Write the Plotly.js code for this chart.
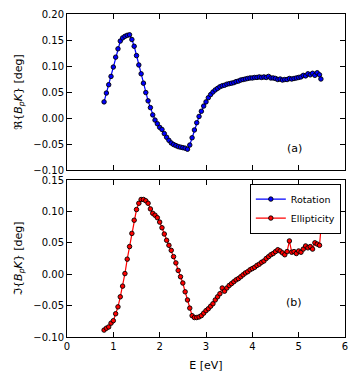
<!DOCTYPE html>
<html>
<head>
<meta charset="utf-8">
<script src="https://cdn.plot.ly/plotly-3.0.1.min.js"></script>
<style>
  html, body { margin: 0; padding: 0; background: #fff; }
  #plot { width: 358px; height: 380px; }
</style>
</head>
<body>
<div id="plot"></div>
<script>
// Photon energy [eV], shared by both series
const energy = [
  0.80, 0.85, 0.90, 0.95, 1.00, 1.05, 1.10, 1.15, 1.20, 1.25,
  1.30, 1.35, 1.40, 1.45, 1.50, 1.55, 1.60, 1.65, 1.70, 1.75,
  1.80, 1.85, 1.90, 1.95, 2.00, 2.05, 2.10, 2.15, 2.20, 2.25,
  2.30, 2.35, 2.40, 2.45, 2.50, 2.55, 2.60, 2.65, 2.70, 2.75,
  2.80, 2.85, 2.90, 2.95, 3.00, 3.05, 3.10, 3.15, 3.20, 3.25,
  3.30, 3.35, 3.40, 3.45, 3.50, 3.55, 3.60, 3.65, 3.70, 3.75,
  3.80, 3.85, 3.90, 3.95, 4.00, 4.05, 4.10, 4.15, 4.20, 4.25,
  4.30, 4.35, 4.40, 4.45, 4.50, 4.55, 4.60, 4.65, 4.70, 4.75,
  4.80, 4.85, 4.90, 4.95, 5.00, 5.05, 5.10, 5.15, 5.20, 5.25,
  5.30, 5.35, 5.40, 5.45, 5.48
];

// Re{BpK} [deg]
const rotation = [
  0.031, 0.048, 0.064, 0.080, 0.098, 0.117, 0.133, 0.148, 0.154, 0.157,
  0.159, 0.160, 0.151, 0.138, 0.120, 0.102, 0.085, 0.067, 0.049, 0.033,
  0.020, 0.006, -0.004, -0.011, -0.018, -0.022, -0.030, -0.037, -0.043, -0.048,
  -0.051, -0.053, -0.055, -0.056, -0.057, -0.058, -0.060, -0.052, -0.038, -0.023,
  -0.009, 0.003, 0.013, 0.023, 0.031, 0.039, 0.045, 0.050, 0.054, 0.057,
  0.060, 0.062, 0.063, 0.065, 0.066, 0.067, 0.068, 0.070, 0.071, 0.073,
  0.074, 0.075, 0.076, 0.077, 0.077, 0.078, 0.078, 0.079, 0.078, 0.079,
  0.078, 0.080, 0.077, 0.077, 0.076, 0.074, 0.075, 0.073, 0.074, 0.074,
  0.076, 0.075, 0.076, 0.077, 0.078, 0.079, 0.082, 0.081, 0.085, 0.083,
  0.086, 0.082, 0.087, 0.083, 0.075
];

// Im{BpK} [deg]
const ellipticity = [
  -0.089, -0.086, -0.084, -0.078, -0.074, -0.063, -0.052, -0.036, -0.019, 0.001,
  0.024, 0.044, 0.065, 0.086, 0.103, 0.113, 0.119, 0.119, 0.117, 0.113,
  0.104, 0.097, 0.094, 0.090, 0.083, 0.074, 0.064, 0.054, 0.046, 0.038,
  0.028, 0.018, 0.006, -0.004, -0.014, -0.028, -0.041, -0.054, -0.066, -0.069,
  -0.069, -0.068, -0.066, -0.062, -0.058, -0.055, -0.051, -0.047, -0.041, -0.036,
  -0.031, -0.022, -0.027, -0.022, -0.018, -0.015, -0.012, -0.009, -0.007, -0.004,
  -0.001, 0.002, 0.004, 0.007, 0.009, 0.011, 0.014, 0.016, 0.019, 0.021,
  0.025, 0.028, 0.031, 0.033, 0.036, 0.039, 0.037, 0.034, 0.031, 0.036,
  0.053, 0.035, 0.036, 0.033, 0.037, 0.035, 0.040, 0.045, 0.042, 0.044,
  0.040, 0.050, 0.048, 0.046, 0.072
];

const xTicks = [0, 1, 2, 3, 4, 5, 6];
const yTicksTop = [-0.10, -0.05, 0.00, 0.05, 0.10, 0.15, 0.20];
const yTicksBottom = [-0.10, -0.05, 0.00, 0.05, 0.10, 0.15];

const fmt = (v) => (v < 0 ? "\u2212" : "") + Math.abs(v).toFixed(2);

const font = { family: "DejaVu Sans", size: 10, color: "#000" };
const titleFont = { family: "DejaVu Sans", size: 11, color: "#000" };

const axisBase = {
  showline: true,
  linecolor: "#000",
  linewidth: 1,
  mirror: "ticks",
  ticks: "inside",
  ticklen: 5,
  tickwidth: 1,
  tickcolor: "#000",
  showgrid: false,
  zeroline: false,
};

const rotationTrace = {
  x: energy,
  y: rotation,
  xaxis: "x",
  yaxis: "y",
  mode: "lines+markers",
  type: "scatter",
  name: "Rotation",
  line: { color: "#0000ff", width: 1.2 },
  marker: { color: "#0000ff", size: 4.5, line: { color: "#000", width: 0.9 } },
};

const ellipticityTrace = {
  x: energy,
  y: ellipticity,
  xaxis: "x2",
  yaxis: "y2",
  mode: "lines+markers",
  type: "scatter",
  name: "Ellipticity",
  line: { color: "#ff0000", width: 1.2 },
  marker: { color: "#ff0000", size: 4.5, line: { color: "#000", width: 0.9 } },
};

const layout = {
  width: 358,
  height: 380,
  margin: { l: 67, r: 13, t: 14, b: 43 },
  paper_bgcolor: "#fff",
  plot_bgcolor: "#fff",
  font: font,
  showlegend: true,
  legend: {
    x: 0.985,
    y: 0.475,
    xanchor: "right",
    yanchor: "top",
    bgcolor: "#fff",
    bordercolor: "#000",
    borderwidth: 1,
    itemwidth: 30,
    font: { family: "DejaVu Sans", size: 9.5, color: "#000" },
    tracegroupgap: 0,
  },
  xaxis: Object.assign({}, axisBase, {
    domain: [0, 1],
    anchor: "y",
    range: [0, 6],
    tickvals: xTicks,
    showticklabels: false,
  }),
  yaxis: Object.assign({}, axisBase, {
    domain: [0.517, 1],
    anchor: "x",
    range: [-0.1, 0.2],
    tickvals: yTicksTop,
    ticktext: yTicksTop.map(fmt),
    title: { text: "\u211C{<i>B<sub>p</sub>K</i>} [deg]", font: titleFont, standoff: 8 },
  }),
  xaxis2: Object.assign({}, axisBase, {
    domain: [0, 1],
    anchor: "y2",
    range: [0, 6],
    tickvals: xTicks,
    title: { text: "E [eV]", font: titleFont, standoff: 10 },
  }),
  yaxis2: Object.assign({}, axisBase, {
    domain: [0, 0.486],
    anchor: "x2",
    range: [-0.1, 0.15],
    tickvals: yTicksBottom,
    ticktext: yTicksBottom.map(fmt),
    title: { text: "\u2111{<i>B<sub>p</sub>K</i>} [deg]", font: titleFont, standoff: 8 },
  }),
  annotations: [
    { text: "(a)", xref: "x", yref: "y", x: 4.9, y: -0.058, showarrow: false, font: titleFont },
    { text: "(b)", xref: "x2", yref: "y2", x: 4.9, y: -0.045, showarrow: false, font: titleFont },
  ],
};

Plotly.newPlot("plot", [rotationTrace, ellipticityTrace], layout, { displayModeBar: false, staticPlot: true });
</script>
</body>
</html>
